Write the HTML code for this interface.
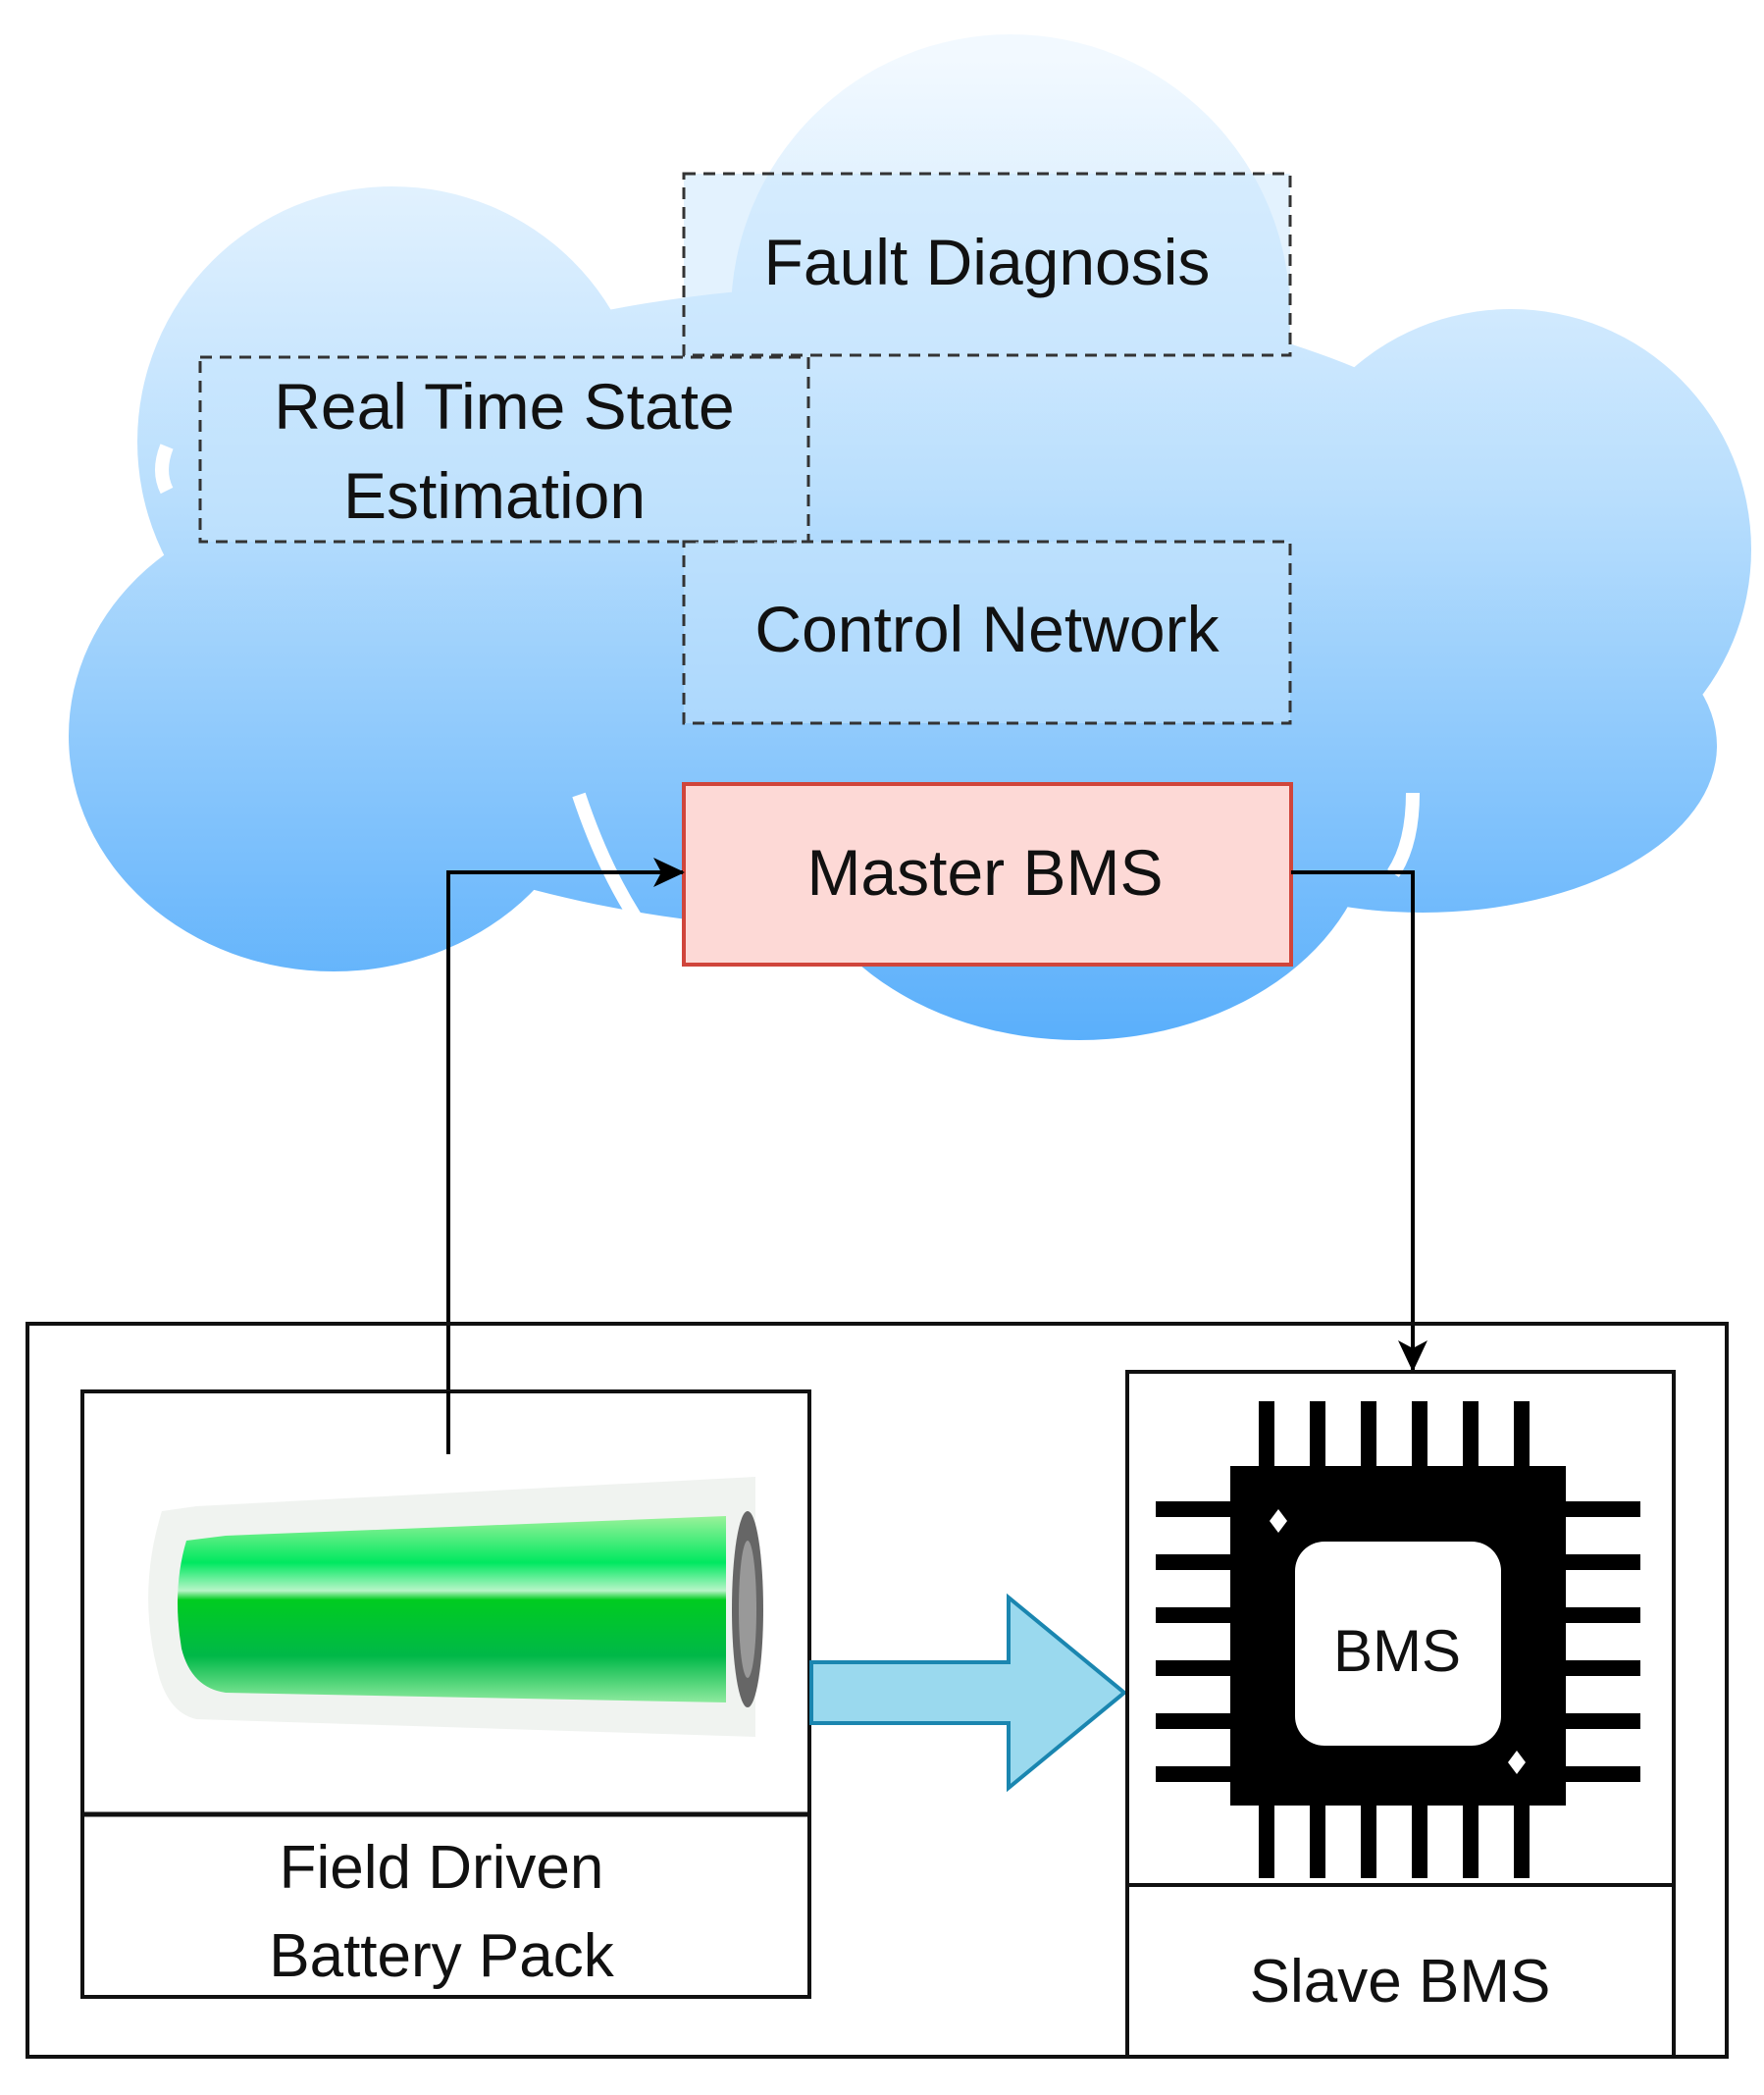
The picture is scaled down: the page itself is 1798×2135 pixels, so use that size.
<!DOCTYPE html>
<html><head><meta charset="utf-8"><style>
html,body{margin:0;padding:0;background:#fff}
svg{display:block}
text{font-family:"Liberation Sans",Arial,sans-serif;fill:#111}
</style></head><body>
<svg width="1798" height="2135" viewBox="0 0 1798 2135" xmlns="http://www.w3.org/2000/svg">
<defs>
<linearGradient id="cg" gradientUnits="userSpaceOnUse" x1="0" y1="60" x2="0" y2="1060">
<stop offset="0" stop-color="#f2f9ff"/><stop offset="0.45" stop-color="#b8defd"/><stop offset="1" stop-color="#5aaffb"/>
</linearGradient>
<linearGradient id="gg" x1="0" y1="0" x2="0" y2="1">
<stop offset="0" stop-color="#9af29a"/><stop offset="0.25" stop-color="#00e860"/><stop offset="0.4" stop-color="#b8f5c8"/><stop offset="0.45" stop-color="#00cc20"/><stop offset="0.75" stop-color="#00b848"/><stop offset="1" stop-color="#8eea9e"/>
</linearGradient>
<marker id="ah" markerWidth="34" markerHeight="34" refX="30" refY="17" orient="auto" markerUnits="userSpaceOnUse">
<path d="M0,2 L32,17 L0,32 L8,17 Z" fill="#000"/></marker>
</defs>
<g fill="url(#cg)">
<circle cx="400" cy="450" r="260"/>
<circle cx="1030" cy="320" r="285"/>
<circle cx="1540" cy="560" r="245"/>
<ellipse cx="340" cy="750" rx="270" ry="240"/>
<ellipse cx="1100" cy="830" rx="300" ry="230"/>
<ellipse cx="900" cy="620" rx="720" ry="330"/>
<ellipse cx="1450" cy="760" rx="300" ry="170"/>
</g>
<g stroke="#fff" stroke-width="14" fill="none">
<path d="M590 810 Q620 900 665 960"/>
<path d="M1440 808 Q1440 860 1420 890"/>
<path d="M1380 260 Q1400 290 1410 330"/>
<path d="M170 455 Q160 480 170 500"/>
</g>
<g fill="#c8e6fd" fill-opacity="0.5" stroke="#333" stroke-width="3" stroke-dasharray="12,8">
<rect x="697" y="177" width="618" height="185"/>
<rect x="204" y="364" width="620" height="188"/>
<rect x="697" y="552" width="618" height="185"/>
</g>
<text x="1006" y="290" font-size="66" text-anchor="middle">Fault Diagnosis</text>
<text x="514" y="437" font-size="66" text-anchor="middle">Real Time State</text>
<text x="504" y="528" font-size="66" text-anchor="middle">Estimation</text>
<text x="1006" y="664" font-size="66" text-anchor="middle">Control Network</text>
<rect x="697" y="799" width="619" height="184" fill="#fdd9d6" stroke="#d0453b" stroke-width="4"/>
<text x="1004" y="912" font-size="66" text-anchor="middle">Master BMS</text>
<path d="M457 1482 V889 H696" fill="none" stroke="#000" stroke-width="4" marker-end="url(#ah)"/>
<path d="M1316 889 H1440 V1396" fill="none" stroke="#000" stroke-width="4" marker-end="url(#ah)"/>
<rect x="28" y="1349" width="1732" height="747" fill="none" stroke="#111" stroke-width="4"/>
<rect x="84" y="1418" width="741" height="617" fill="#fff" stroke="#111" stroke-width="4"/>
<line x1="84" y1="1849" x2="825" y2="1849" stroke="#111" stroke-width="5"/>
<path d="M457 1418 V1482" stroke="#000" stroke-width="4"/>
<path d="M165 1540 Q140 1620 160 1700 Q170 1745 200 1752 L770 1770 L770 1505 L200 1535 Z" fill="#eef2ee" opacity="0.9"/>
<path d="M190 1570 Q175 1620 185 1680 Q195 1720 230 1725 L740 1735 L740 1545 L230 1565 Z" fill="url(#gg)"/>
<ellipse cx="762" cy="1640" rx="16" ry="100" fill="#666"/>
<ellipse cx="762" cy="1640" rx="9" ry="70" fill="#999"/>
<text x="450" y="1924" font-size="62" text-anchor="middle">Field Driven</text>
<text x="450" y="2014" font-size="62" text-anchor="middle">Battery Pack</text>
<path d="M827 1694 H1028 V1628 L1146 1725 L1028 1822 V1756 H827 Z" fill="#9ad9ee" stroke="#1a86b0" stroke-width="4"/>
<rect x="1149" y="1398" width="557" height="698" fill="#fff" stroke="#111" stroke-width="4"/>
<line x1="1149" y1="1921" x2="1706" y2="1921" stroke="#111" stroke-width="4"/>
<g fill="#000">
<rect x="1254" y="1494" width="342" height="346"/>
<rect x="1283" y="1428" width="16" height="70"/><rect x="1335" y="1428" width="16" height="70"/><rect x="1387" y="1428" width="16" height="70"/><rect x="1439" y="1428" width="16" height="70"/><rect x="1491" y="1428" width="16" height="70"/><rect x="1543" y="1428" width="16" height="70"/>
<rect x="1283" y="1836" width="16" height="78"/><rect x="1335" y="1836" width="16" height="78"/><rect x="1387" y="1836" width="16" height="78"/><rect x="1439" y="1836" width="16" height="78"/><rect x="1491" y="1836" width="16" height="78"/><rect x="1543" y="1836" width="16" height="78"/>
<rect x="1178" y="1530" width="80" height="16"/><rect x="1178" y="1584" width="80" height="16"/><rect x="1178" y="1638" width="80" height="16"/><rect x="1178" y="1692" width="80" height="16"/><rect x="1178" y="1746" width="80" height="16"/><rect x="1178" y="1800" width="80" height="16"/>
<rect x="1592" y="1530" width="80" height="16"/><rect x="1592" y="1584" width="80" height="16"/><rect x="1592" y="1638" width="80" height="16"/><rect x="1592" y="1692" width="80" height="16"/><rect x="1592" y="1746" width="80" height="16"/><rect x="1592" y="1800" width="80" height="16"/>
</g>
<rect x="1320" y="1571" width="210" height="208" rx="30" fill="#fff"/>
<path d="M1303 1538 l9 12 l-9 12 l-9 -12 Z" fill="#fff"/>
<path d="M1546 1784 l9 12 l-9 12 l-9 -12 Z" fill="#fff"/>
<text x="1424" y="1703" font-size="60" text-anchor="middle">BMS</text>
<text x="1427" y="2040" font-size="62" text-anchor="middle">Slave BMS</text>
</svg>
</body></html>
